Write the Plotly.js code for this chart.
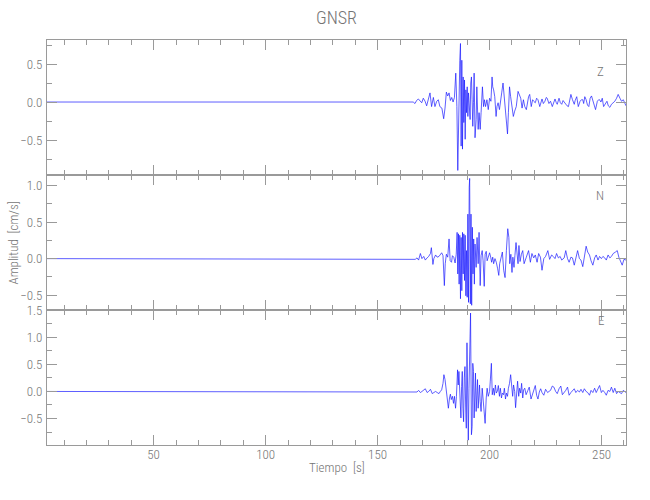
<!DOCTYPE html>
<html>
<head>
<meta charset="utf-8">
<script src="https://cdn.plot.ly/plotly-3.0.1.min.js"></script>
<style>html,body{margin:0;padding:0;background:#fff;}#chart{width:650px;height:500px;}</style>
</head>
<body>
<div id="chart"></div>
<script>
// ---- Component Z (vertical) ----
var tZ = [2.4,165.9,166.7,167.4,168.2,168.9,169.7,170.4,171.2,171.9,172.6,173.4,174.1,174.9,175.6,176.4,177.1,177.8,
178.7,179.5,180.1,180.7,181.3,181.9,182.5,183.1,183.7,184.3,
184.9,185.4,185.8,186.3,186.7,187.0,187.3,187.6,187.9,188.2,
188.5,188.8,189.1,189.4,189.7,190.0,190.3,190.6,191.0,191.3,
191.6,191.9,192.2,192.5,192.8,193.1,193.5,194.0,194.3,194.6,
194.9,195.3,195.8,196.2,196.8,197.3,197.7,198.2,198.8,199.4,
200.0,200.6,201.1,201.4,201.8,202.3,202.9,203.3,203.8,204.4,
204.8,205.4,206.0,206.5,206.9,207.5,208.0,208.4,208.9,209.4,
210.0,210.6,211.2,211.9,212.7,213.3,213.9,214.5,215.1,215.7,216.4,
217.4,217.9,218.6,219.2,219.7,220.4,221.0,221.6,222.4,223.0,
223.4,224.0,224.7,225.3,225.7,226.5,227.2,228.0,228.7,229.2,
229.8,230.2,231.0,231.6,232.2,232.8,233.3,234.0,234.6,235.2,
235.8,236.3,237.0,237.8,238.2,238.9,239.6,240.4,241.0,241.6,
242.0,242.5,243.1,243.7,244.3,244.9,245.5,246.1,246.7,247.3,
248.1,248.7,249.1,249.7,250.3,250.9,251.7,252.4,253.0,253.7,
254.4,255.2,255.9,256.7,257.4,258.2,258.9,259.7,260.9];
var ampZ = [0,0,-0.02,0.02,0.04,0.01,-0.01,0.05,0.01,-0.05,0.02,0.12,-0.06,0.06,-0.06,0.01,0.03,-0.06,
-0.08,-0.22,-0.08,0.13,0.08,0.12,0.02,0.06,0.0,0.06,
0.38,-0.06,-0.9,0.07,0.55,0.77,-0.58,0.55,-0.62,0.33,
-0.27,0.29,-0.49,0.16,-0.14,0.2,-0.19,0.12,-0.06,-0.23,
0.25,0.33,0.03,-0.32,-0.01,0.38,-0.47,-0.23,0.2,-0.06,
-0.36,-0.14,-0.36,-0.14,0.2,-0.06,0.03,-0.06,0.03,-0.1,
0.05,0.01,0.33,0.2,0.16,0.07,-0.19,-0.06,-0.01,-0.1,
0.03,0.12,0.25,0.07,-0.06,-0.25,-0.42,-0.14,0.2,0.07,
-0.06,-0.19,-0.12,-0.06,0.14,0.1,0.05,-0.08,0.03,-0.06,-0.1,
0.07,0.1,-0.06,0.03,0.01,-0.01,0.05,0.03,-0.06,0.02,
0.04,-0.02,0.01,0.06,0.05,-0.02,0.01,-0.06,0.02,0.04,
-0.01,-0.03,0.05,-0.01,-0.03,0.02,0.0,-0.03,-0.05,-0.06,
0.06,0.1,0.03,-0.03,0.02,0.07,-0.06,0.01,0.03,0.03,
-0.02,0.07,0.03,-0.04,-0.06,0.05,0.08,0.0,-0.04,-0.1,
0.01,0.03,0.03,0.0,0.05,-0.06,-0.03,0.01,-0.05,-0.07,
-0.03,-0.01,0.01,0.05,0.1,0.05,0.01,0.03,-0.05];

// ---- Component N ----
var tN = [2.4,166.0,166.8,167.6,168.3,169.1,169.8,170.6,171.3,172.1,172.8,173.6,174.0,174.7,175.1,175.9,176.6,177.4,
178.0,178.6,179.2,179.8,180.2,180.7,181.3,181.9,182.4,183.0,
183.4,184.0,184.6,185.1,185.5,185.8,186.1,186.4,186.7,187.0,
187.3,187.6,187.9,188.2,188.5,188.8,189.1,189.4,189.7,190.0,
190.3,190.6,190.9,191.1,191.4,191.7,192.0,192.3,192.6,192.9,
193.2,193.5,194.0,194.4,194.9,195.3,195.8,196.2,196.7,197.1,
197.6,198.0,198.5,198.9,199.4,200.0,200.5,200.9,201.4,201.8,
202.4,203.0,203.6,204.1,204.5,205.1,205.7,206.3,206.9,207.5,
208.1,208.6,209.0,209.5,210.0,210.4,210.9,211.3,211.8,212.2,
212.7,213.1,213.6,214.2,214.8,215.4,216.0,216.4,
217.4,218.2,218.9,219.7,220.4,221.2,221.9,222.7,223.4,224.2,
225.0,226.0,226.8,227.7,228.4,229.2,229.9,230.7,231.5,232.2,
233.3,234.0,234.8,235.5,236.3,237.0,237.8,238.5,239.3,240.1,
240.8,241.6,242.3,243.1,243.8,244.6,245.3,246.1,246.9,247.6,
248.4,249.1,249.9,250.6,251.4,252.1,252.9,253.7,254.4,255.2,
256.2,257.0,257.7,258.5,259.2,260.0,260.9];
var ampN = [0,0,-0.01,0.01,-0.02,0.07,0.0,0.03,-0.02,0.01,0.03,0.07,0.15,-0.08,0.0,0.05,0.02,0.03,
0.06,0.08,0.04,-0.37,-0.07,0.06,0.02,0.27,-0.03,-0.05,
0.04,0.02,-0.06,0.06,0.36,-0.21,0.34,-0.35,0.32,-0.55,
0.29,-0.44,0.36,-0.21,0.34,-0.3,0.32,-0.51,0.11,-0.53,
0.61,-0.6,0.98,1.1,-0.62,0.61,-0.64,0.43,-0.21,0.27,
-0.35,0.2,-0.12,0.29,-0.07,0.36,-0.37,0.04,0.11,-0.03,
-0.38,0.06,0.1,-0.03,0.02,0.08,0.02,-0.05,0.02,-0.07,
0.0,-0.05,-0.14,-0.23,-0.07,0.02,0.09,-0.16,-0.26,0.11,
0.41,0.29,-0.07,0.06,-0.19,0.02,-0.12,0.04,0.22,0.09,
-0.07,0.18,-0.04,0.06,0.11,-0.07,-0.03,0.02,
0.11,-0.05,0.07,0.01,0.05,-0.05,0.07,0.02,-0.16,0.0,
0.03,0.11,-0.01,0.05,0.03,0.0,0.07,0.01,0.03,-0.02,
0.01,0.11,0.0,-0.05,0.02,0.01,-0.09,0.01,0.11,0.0,
-0.02,-0.11,0.0,0.17,0.09,0.05,-0.03,-0.09,0.01,0.05,
-0.02,0.03,0.0,0.03,0.01,-0.02,0.05,0.01,0.03,0.07,
0.09,0.11,0.02,-0.05,-0.09,-0.01,-0.02];

// ---- Component E ----
var tE = [2.4,166.0,167.6,168.3,169.1,169.8,170.6,171.3,172.1,172.8,173.6,174.4,175.1,175.9,176.6,177.4,
178.0,178.6,179.2,179.6,180.1,180.5,181.0,181.6,182.1,182.5,
182.9,183.4,183.9,184.3,184.8,185.2,185.7,186.0,186.3,186.6,
186.9,187.2,187.5,187.8,188.1,188.4,188.7,189.0,189.3,189.6,
189.9,190.2,190.5,190.8,191.1,191.4,191.5,191.9,192.2,192.5,
192.8,193.1,193.4,193.7,194.0,194.3,194.6,194.9,195.2,195.5,
195.8,196.2,196.7,197.1,197.6,198.0,198.5,198.9,199.4,200.0,
200.3,200.8,201.2,201.7,202.1,202.6,203.0,203.5,203.9,204.4,
204.8,205.3,205.7,206.2,206.6,207.1,207.5,208.0,208.4,208.9,
209.4,209.8,210.3,210.7,211.2,211.6,212.1,212.5,213.0,213.4,
213.9,214.3,214.8,215.2,215.7,216.3,
217.1,217.7,218.5,219.2,219.8,220.4,221.0,221.6,222.2,222.8,
223.4,224.2,225.0,225.9,226.5,227.2,228.0,228.7,229.5,230.2,
231.0,231.8,232.5,233.3,234.0,234.8,235.5,236.3,237.0,237.8,
238.5,239.3,240.1,240.8,241.6,242.3,243.1,243.8,244.6,245.3,
246.1,246.9,247.6,248.4,249.1,249.9,250.6,251.4,252.1,252.9,
253.7,254.4,255.2,255.9,256.7,257.4,258.2,258.9,259.7,260.9];
var ampE = [0,0,-0.01,0.02,-0.02,0,0.02,0.05,-0.02,0,0.04,-0.04,-0.02,0,-0.02,-0.04,
0.0,0.03,0.15,0.31,0.22,0.06,-0.07,-0.31,-0.12,-0.05,
-0.15,-0.09,-0.22,-0.09,-0.31,-0.09,0.4,0.12,0.37,-0.03,
-0.25,-0.49,0.09,0.37,-0.31,-0.56,0.25,0.46,-0.25,-0.68,
0.9,-0.31,-0.9,0.06,0.62,1.17,1.45,-0.8,-0.65,0.52,
0.37,-0.49,0.0,0.34,-0.37,0.06,0.22,-0.31,-0.06,0.12,
-0.19,-0.37,0.06,-0.19,-0.34,-0.59,-0.12,0.06,-0.09,0.0,
0.19,0.52,-0.06,0.06,-0.07,0.12,-0.03,0.01,0.11,-0.09,
0.06,-0.12,-0.03,-0.06,0.06,-0.14,-0.03,-0.09,0.06,0.15,
0.31,0.06,-0.09,0.12,0.0,-0.3,0.12,0.19,-0.09,0.06,
-0.03,0.15,-0.12,0.03,0.06,-0.06,
0.02,0.08,-0.14,-0.04,0.02,0.11,-0.07,-0.14,-0.01,0.05,
-0.02,-0.07,0.04,-0.02,0.0,0.02,0.1,0.08,0.0,-0.04,
0.05,0.1,-0.06,-0.02,0.02,0.08,-0.07,-0.02,0.02,0.05,
-0.02,0.02,-0.01,0.04,-0.02,0.05,0.0,-0.02,-0.07,0.02,
-0.02,0.06,-0.02,0.04,0.11,-0.02,0.02,-0.02,-0.07,0.02,
0.0,0.08,-0.02,0.06,-0.04,0.0,-0.02,-0.04,0.02,-0.02];

var componentLabels = ["Z", "N", "E"];
var yRanges = [[-0.96, 0.816], [-0.705, 1.147], [-0.99, 1.506]];
var xRange = [2.4, 260.9];

var FONT = "'Roboto Condensed', 'Liberation Sans Narrow', Roboto, sans-serif";
var TXT = "#747474";
var AX = "#9a9a9a";
function f(size) { return {family: FONT, size: size, color: TXT, weight: 300}; }

function trace(t, a, n) {
  var s = n === 1 ? "" : String(n);
  return {x: t, y: a, type: "scatter", mode: "lines", xaxis: "x" + s, yaxis: "y" + s,
          line: {color: "#1a1aff", width: 0.7}, hoverinfo: "skip", showlegend: false};
}
var data = [trace(tZ, ampZ, 1), trace(tN, ampN, 2), trace(tE, ampE, 3)];

function xax(anchor, labels) {
  var o = {range: xRange, anchor: anchor,
    showline: true, linecolor: AX, linewidth: 1, mirror: "ticks",
    ticks: "inside", ticklen: 10, tickcolor: AX, tickwidth: 1,
    tick0: 0, dtick: 50, showgrid: false, zeroline: false,
    showticklabels: labels, tickfont: f(13), ticklabelstandoff: -3,
    minor: {dtick: 10, ticks: "inside", ticklen: 5, tickcolor: AX, showgrid: false}};
  if (anchor !== "y") o.matches = "x";
  return o;
}
function yax(anchor, dom, rng) {
  return {domain: dom, range: rng, anchor: anchor,
    showline: true, linecolor: AX, linewidth: 1, mirror: "ticks",
    ticks: "inside", ticklen: 10, tickcolor: AX, tickwidth: 1,
    tick0: 0, dtick: 0.5, tickformat: ".1f", showgrid: false, zeroline: false,
    tickfont: f(13), ticklabelstandoff: 1,
    minor: {dtick: 0.25, ticks: "inside", ticklen: 5, tickcolor: AX, showgrid: false}};
}

var layout = {
  width: 650, height: 500,
  margin: {l: 47, r: 24, t: 40, b: 55},
  paper_bgcolor: "#ffffff", plot_bgcolor: "#ffffff",
  title: {text: "GNSR", x: 0.5, xref: "paper", y: 0.964, yref: "container", yanchor: "middle", font: f(18)},
  xaxis: xax("y", false),
  xaxis2: xax("y2", false),
  xaxis3: xax("y3", true),
  yaxis: yax("x", [0.6667, 1], yRanges[0]),
  yaxis2: yax("x2", [0.3333, 0.6667], yRanges[1]),
  yaxis3: yax("x3", [0, 0.3333], yRanges[2]),
  annotations: [
    {text: componentLabels[0], xref: "paper", yref: "paper", x: 0.965, y: 0.946, showarrow: false, font: f(13)},
    {text: componentLabels[1], xref: "paper", yref: "paper", x: 0.965, y: 0.615, showarrow: false, font: f(13)},
    {text: componentLabels[2], xref: "paper", yref: "paper", x: 0.965, y: 0.284, showarrow: false, font: f(13)},
    {text: "Amplitud  [cm/s]", xref: "paper", yref: "paper", x: -0.057, y: 0.5, textangle: -90, showarrow: false,
     xanchor: "center", yanchor: "middle", font: f(13)},
    {text: "Tiempo  [s]", xref: "paper", yref: "paper", x: 0.5, y: -0.056, showarrow: false,
     xanchor: "center", yanchor: "middle", font: f(13)}
  ]
};

Plotly.newPlot("chart", data, layout, {staticPlot: true, displayModeBar: false});
</script>
</body>
</html>
